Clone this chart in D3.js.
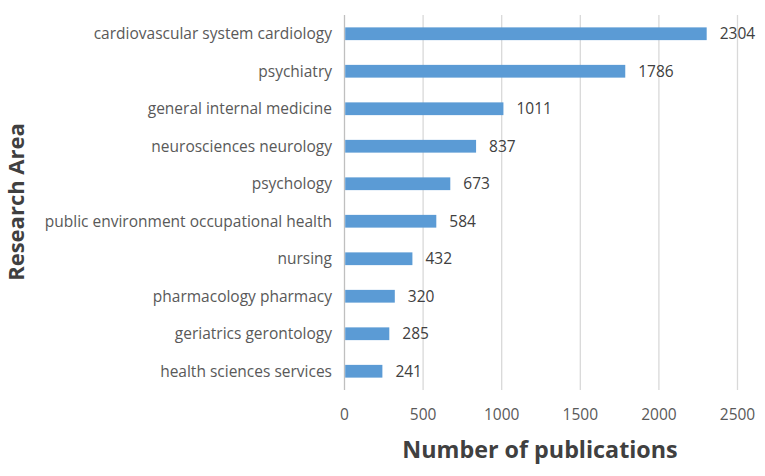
<!DOCTYPE html>
<html><head><meta charset="utf-8">
<script src="https://cdn.jsdelivr.net/npm/d3@7"></script>
<style>body{margin:0;background:#fff;} svg{display:block;}</style>
</head><body>
<svg id="c" width="765" height="476"></svg>
<script>
const categories = ["cardiovascular system cardiology","psychiatry","general internal medicine","neurosciences neurology","psychology","public environment occupational health","nursing","pharmacology pharmacy","geriatrics gerontology","health sciences services"];
const values = [2304,1786,1011,837,673,584,432,320,285,241];
const xTicks = [0,500,1000,1500,2000,2500];

const svg = d3.select("#c");
const font = "'Open Sans', sans-serif";
const x = d3.scaleLinear().domain([0,2500]).range([344.5,737.5]);
const y = d3.scaleBand().domain(categories).range([15,390]).paddingInner(0.66).paddingOuter(0.33);

// gridlines
svg.append("g").selectAll("line").data(xTicks.slice(1)).join("line")
  .attr("x1",d=>x(d)).attr("x2",d=>x(d)).attr("y1",15).attr("y2",390)
  .attr("stroke","#d9d9d9").attr("stroke-width",1.3);
// axis line
svg.append("line").attr("x1",x(0)).attr("x2",x(0)).attr("y1",15).attr("y2",390)
  .attr("stroke","#bfbfbf").attr("stroke-width",1.3);

// bars
svg.append("g").selectAll("rect").data(values).join("rect")
  .attr("x",x(0)+0.7).attr("y",(d,i)=>y(categories[i]))
  .attr("width",d=>x(d)-x(0)-0.7).attr("height",y.bandwidth())
  .attr("fill","#5b9bd5");

// value labels
svg.append("g").selectAll("text").data(values).join("text")
  .attr("x",d=>x(d)+13).attr("y",(d,i)=>y(categories[i])+y.bandwidth()/2)
  .attr("dy","0.35em").attr("font-family",font).attr("font-size",15.5)
  .attr("fill","#404040").text(d=>d);

// category labels
svg.append("g").selectAll("text").data(categories).join("text")
  .attr("x",332).attr("y",d=>y(d)+y.bandwidth()/2).attr("dy","0.35em")
  .attr("text-anchor","end").attr("font-family",font).attr("font-size",15.5)
  .attr("fill","#595959").text(d=>d);

// x tick labels
svg.append("g").selectAll("text").data(xTicks).join("text")
  .attr("x",d=>x(d)).attr("y",415).attr("dy","0.35em").attr("text-anchor","middle")
  .attr("font-family",font).attr("font-size",15.5).attr("fill","#595959").text(d=>d);

// axis titles
svg.append("text").attr("x",540).attr("y",450).attr("dy","0.35em").attr("text-anchor","middle")
  .attr("font-family",font).attr("font-weight","bold").attr("font-size",23.3)
  .attr("fill","#404040").text("Number of publications");
svg.append("text").attr("transform","translate(16,202) rotate(-90)").attr("dy","0.35em")
  .attr("text-anchor","middle").attr("font-family",font).attr("font-weight","bold")
  .attr("font-size",22).attr("fill","#404040").text("Research Area");
</script>
</body></html>
